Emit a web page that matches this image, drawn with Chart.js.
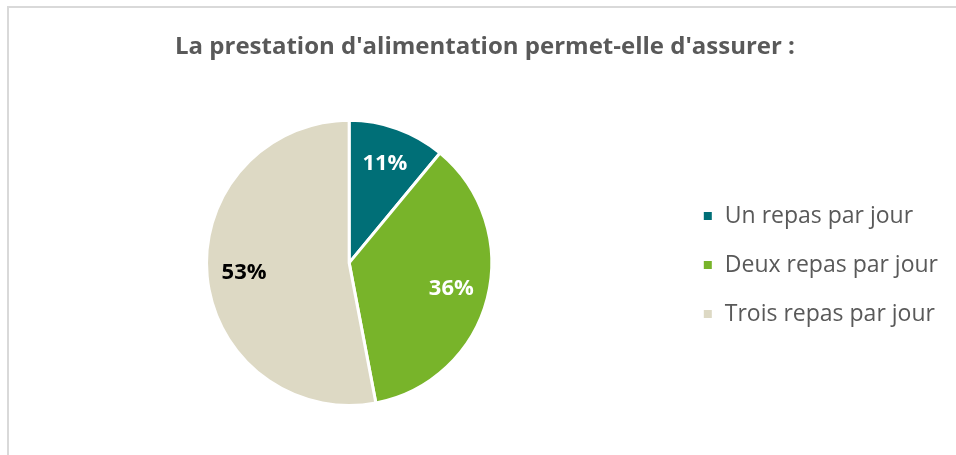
<!DOCTYPE html>
<html>
<head>
<meta charset="utf-8">
<script src="https://cdn.jsdelivr.net/npm/chart.js@4.4.1/dist/chart.umd.min.js"></script>
<style>
  html, body { margin: 0; padding: 0; background: #fff; overflow: hidden; width: 956px; height: 455px; }
  #frame { position: absolute; left: 7px; top: 6px; width: 1000px; height: 500px;
           border-left: 2px solid #d9d9d9; border-top: 2px solid #d9d9d9; }
  #wrap { position: absolute; left: 0; top: 0; width: 974px; height: 455px; }
</style>
</head>
<body>
<div id="frame"></div>
<div id="wrap"><canvas id="myChart"></canvas></div>
<script>
var titleText = "La prestation d'alimentation permet-elle d'assurer :";
var labels = ["Un repas par jour", "Deux repas par jour", "Trois repas par jour"];
var values = [11, 36, 53];
var colors = ["#006F77", "#78B42A", "#DDD9C4"];
var labelColors = ["#ffffff", "#ffffff", "#000000"];

// draws the percent inside each slice
var sliceLabels = {
	id: "sliceLabels",
	afterDatasetsDraw: function (chart) {
		var ctx = chart.ctx;
		var meta = chart.getDatasetMeta(0);
		ctx.save();
		ctx.font = "bold 22px 'Open Sans'";
		ctx.textAlign = "center";
		ctx.textBaseline = "middle";
		meta.data.forEach(function (arc, i) {
			var p = arc.getProps(["x", "y", "startAngle", "endAngle", "outerRadius"], true);
			var mid = (p.startAngle + p.endAngle) / 2;
			var r = p.outerRadius * 0.74;
			ctx.fillStyle = labelColors[i];
			ctx.fillText(values[i] + "%", p.x + Math.cos(mid) * r, p.y + Math.sin(mid) * r);
		});
		ctx.restore();
	}
};

var ctx = document.getElementById("myChart").getContext("2d");
var chart = new Chart(ctx, {
	type: "pie",
	data: {
		labels: labels,
		datasets: [
			{
				data: values,
				backgroundColor: colors,
				borderColor: "#ffffff",
				borderWidth: 3,
				hoverOffset: 0,
			},
		],
	},
	options: {
		responsive: true,
		maintainAspectRatio: false,
		animation: false,
		events: [],
		layout: {
			padding: { left: 22, right: 26, top: 0, bottom: 48 },
		},
		plugins: {
			title: {
				display: true,
				text: titleText,
				color: "#595959",
				font: { family: "'Open Sans'", size: 24, weight: "bold", lineHeight: 1.2 },
				padding: { top: 33, bottom: 57 },
			},
			legend: {
				position: "right",
				title: {
					display: true,
					text: " ",
					font: { size: 1, lineHeight: 1 },
					padding: { top: 122, bottom: 0 },
				},
				labels: {
					boxWidth: 11,
					boxHeight: 11,
					padding: 26,
					color: "#595959",
					font: { family: "'Open Sans'", size: 23 },
				},
			},
			tooltip: { enabled: false },
		},
	},
	plugins: [sliceLabels],
});
</script>
</body>
</html>
